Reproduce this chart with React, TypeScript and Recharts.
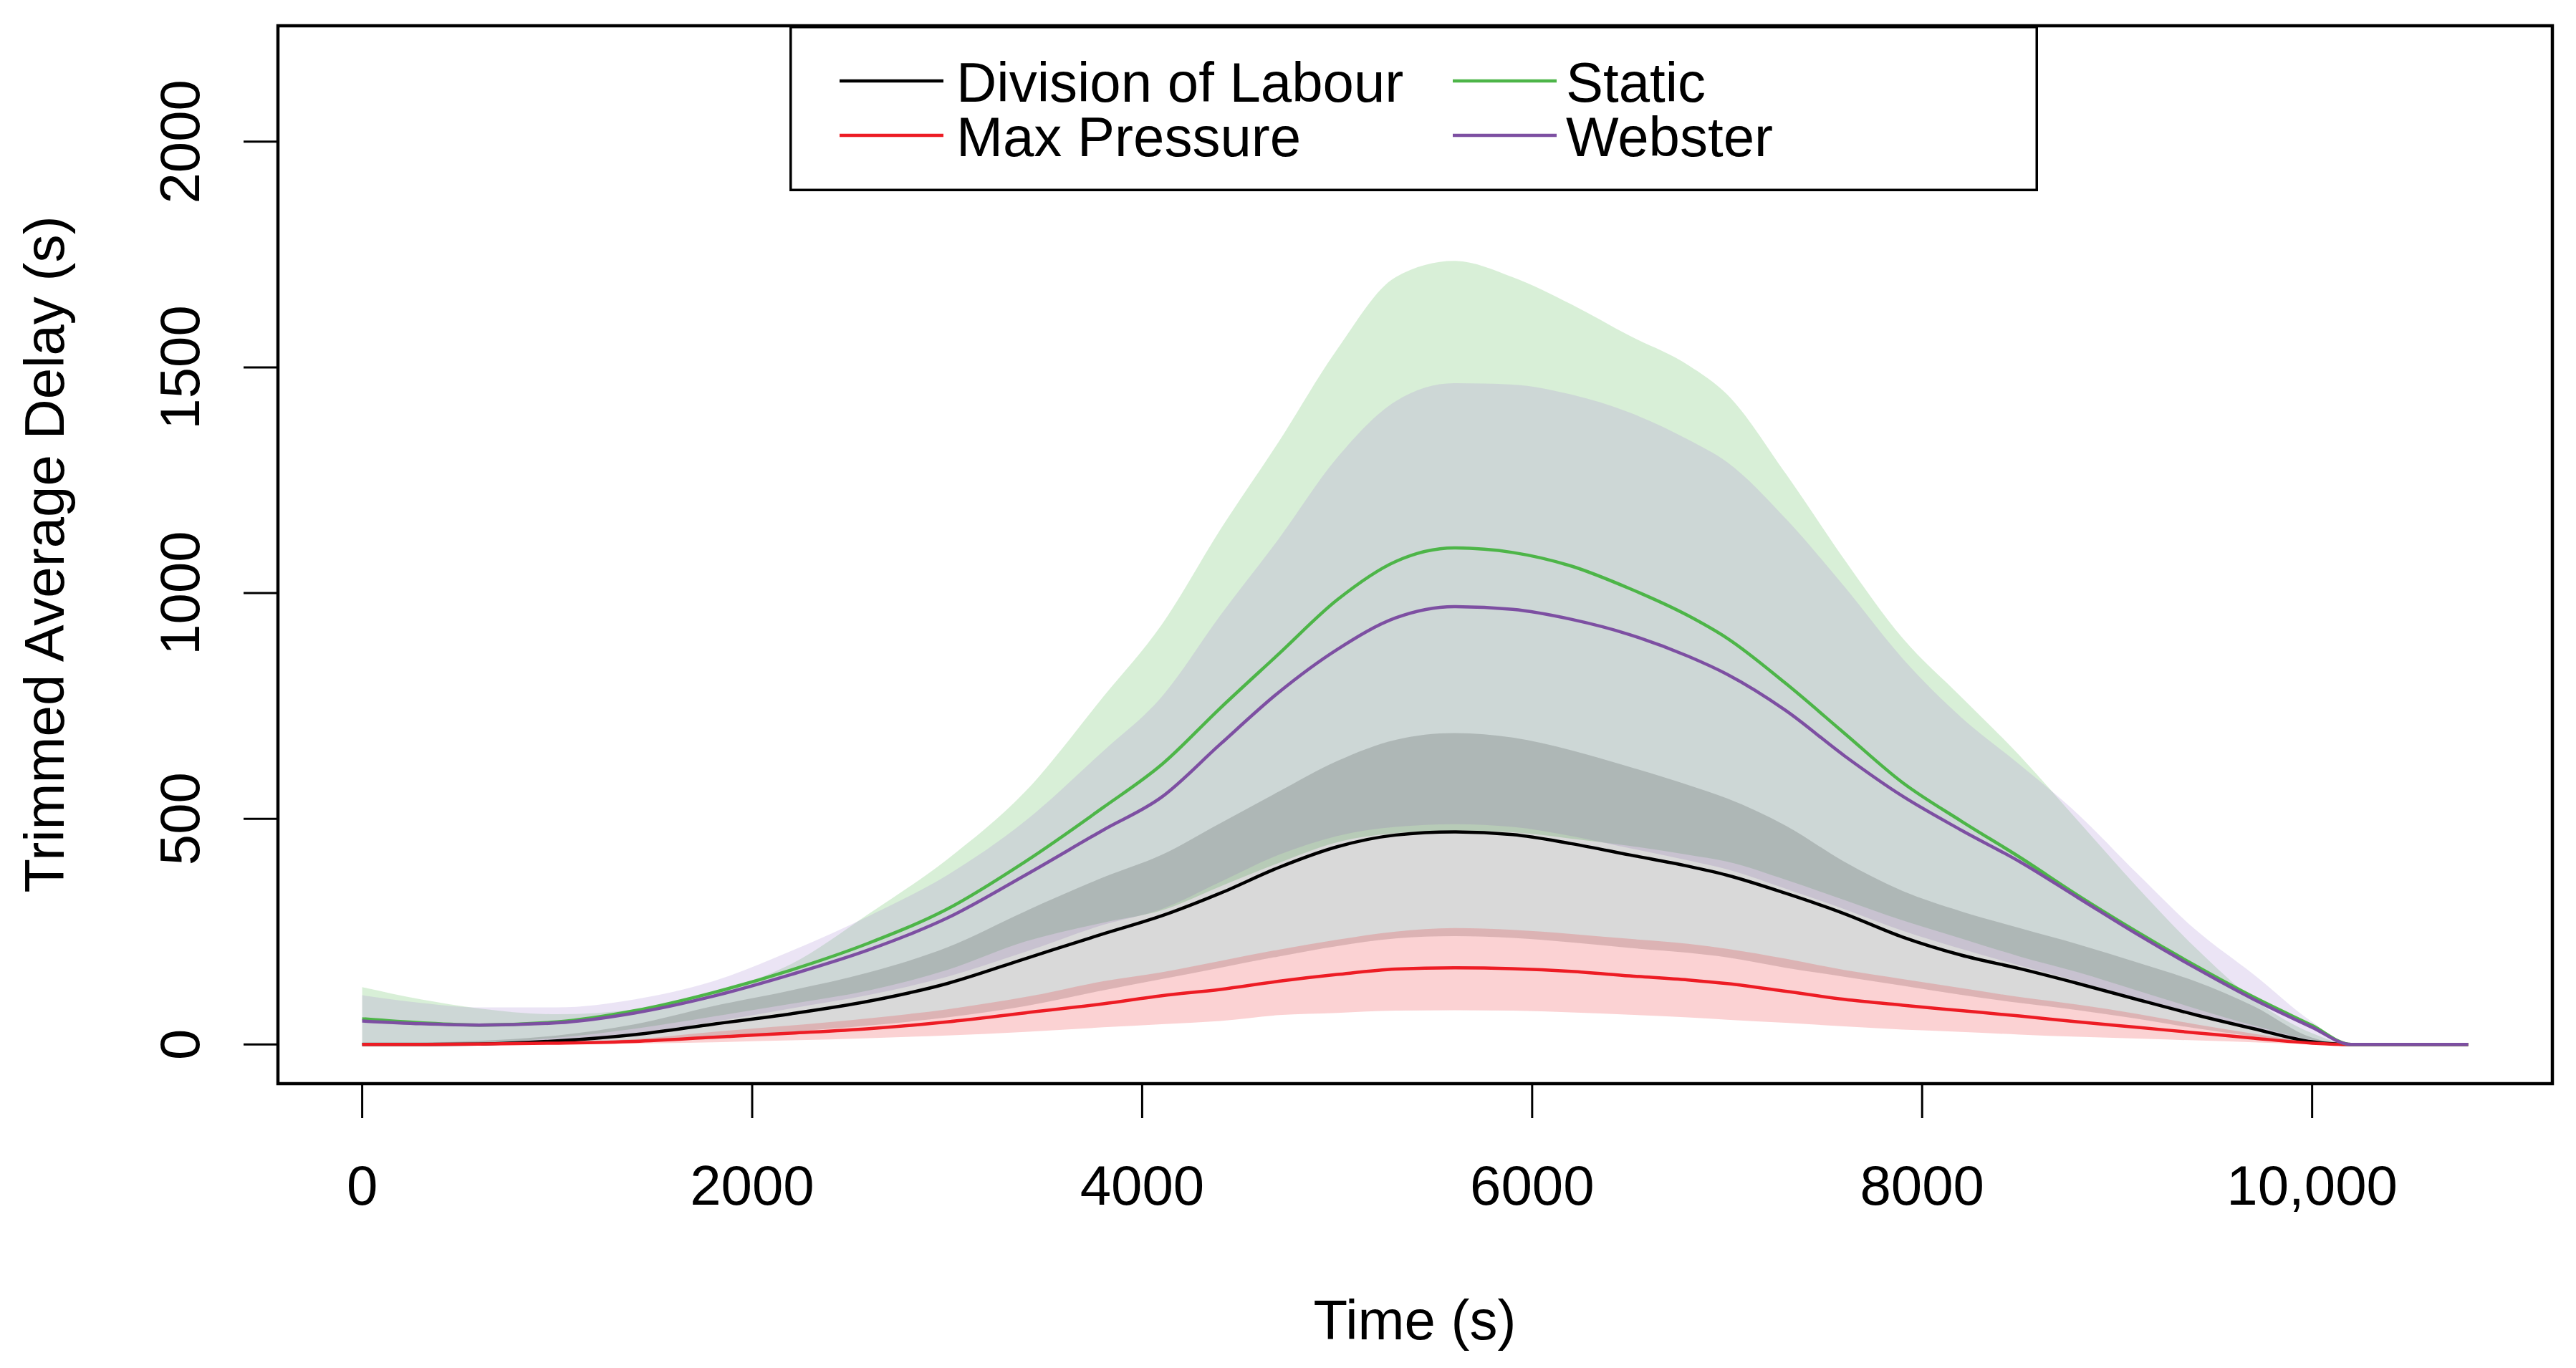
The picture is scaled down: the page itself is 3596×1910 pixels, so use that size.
import { Area, ComposedChart, Legend, Line, ReferenceArea, XAxis, YAxis } from "recharts";

// time (s)
const times = [
    0, 300, 600, 1000, 1400, 1800, 2200, 2600, 3000, 3400, 3800, 4100, 4400, 4700, 5000, 5300, 5600, 5900,
    6200, 6500, 6800, 7000, 7300, 7600, 7900, 8200, 8500, 8800, 9100, 9400, 9700, 10000, 10200, 10500, 10800,
];

// trimmed means
const dolMean = [0, 0, 1, 8, 22, 45, 68, 96, 135, 190, 245, 285, 335, 392, 438, 464, 471, 465, 445, 420, 395, 375, 335, 290, 238, 198, 168, 135, 100, 66, 35, 6, 0, 0, 0];
const mpMean = [0, 0, 1, 3, 7, 16, 25, 35, 50, 70, 90, 108, 122, 140, 155, 167, 170, 168, 162, 152, 143, 135, 118, 100, 87, 75, 63, 50, 38, 26, 14, 3, 0, 0, 0];
const staticMean = [57, 48, 43, 50, 75, 115, 165, 225, 300, 405, 525, 620, 745, 865, 985, 1070, 1100, 1090, 1060, 1010, 950, 900, 800, 690, 580, 495, 415, 330, 250, 175, 105, 42, 0, 0, 0];
const websterMean = [52, 46, 43, 48, 70, 107, 155, 210, 280, 375, 475, 548, 665, 780, 875, 945, 970, 964, 942, 908, 860, 820, 740, 640, 550, 475, 405, 325, 245, 170, 100, 38, 0, 0, 0];

// bands
const dolLow = [0, 0, 0, 2, 6, 15, 28, 42, 60, 85, 120, 145, 170, 195, 218, 235, 240, 236, 226, 214, 203, 193, 170, 150, 130, 110, 92, 76, 57, 36, 18, 4, 0, 0, 0];
const dolHigh = [5, 5, 8, 20, 45, 85, 120, 160, 215, 295, 370, 420, 490, 560, 628, 675, 690, 680, 652, 615, 575, 545, 485, 405, 340, 295, 258, 222, 182, 140, 85, 15, 0, 0, 0];
const mpLow = [0, 0, 0, 1, 2, 5, 9, 14, 20, 28, 38, 45, 52, 65, 70, 75, 76, 75, 71, 66, 60, 55, 48, 40, 33, 28, 22, 17, 13, 9, 5, 1, 0, 0, 0];
const mpHigh = [0, 1, 2, 5, 12, 28, 42, 58, 78, 105, 140, 160, 185, 210, 232, 250, 258, 254, 245, 234, 223, 212, 190, 165, 145, 125, 105, 88, 68, 45, 24, 6, 0, 0, 0];
const staticLow = [0, 0, 3, 15, 35, 62, 90, 120, 165, 228, 270, 297, 350, 402, 448, 468, 474, 470, 456, 440, 420, 405, 365, 320, 275, 235, 195, 160, 120, 80, 42, 10, 0, 0, 0];
const staticHigh = [127, 100, 80, 67, 78, 115, 178, 290, 410, 560, 770, 930, 1140, 1335, 1540, 1700, 1736, 1700, 1640, 1570, 1505, 1440, 1265, 1075, 900, 770, 640, 495, 350, 215, 100, 25, 0, 0, 0];
const websterLow = [0, 0, 2, 10, 25, 50, 80, 110, 150, 205, 265, 300, 360, 420, 462, 482, 488, 482, 462, 435, 408, 388, 345, 300, 252, 212, 175, 140, 102, 68, 35, 8, 0, 0, 0];
const websterHigh = [109, 92, 82, 82, 100, 140, 207, 285, 375, 495, 650, 770, 950, 1120, 1300, 1425, 1465, 1462, 1440, 1400, 1340, 1290, 1165, 1015, 855, 725, 620, 510, 380, 255, 155, 50, 0, 0, 0];

const xTicks = [0, 2000, 4000, 6000, 8000, 10000];
const xTickLabels = ["0", "2000", "4000", "6000", "8000", "10,000"];
const yTicks = [0, 500, 1000, 1500, 2000];
const yTickLabels = ["0", "500", "1000", "1500", "2000"];
const yLimit = 2170;

const series = [
    { name: "Division of Labour", key: "dol", color: "#000000", fill: "#000000", opacity: 0.15 },
    { name: "Max Pressure", key: "mp", color: "#ED1C24", fill: "#ED1C24", opacity: 0.2 },
    { name: "Static", key: "st", color: "#4DB548", fill: "#4DB548", opacity: 0.22 },
    { name: "Webster", key: "wb", color: "#7D4FA2", fill: "#AA8CD2", opacity: 0.23 },
];

const data = times.map((t, i) => ({
    t,
    dol: dolMean[i],
    mp: mpMean[i],
    st: staticMean[i],
    wb: websterMean[i],
    dolBand: [dolLow[i], dolHigh[i]],
    mpBand: [mpLow[i], mpHigh[i]],
    stBand: [staticLow[i], staticHigh[i]],
    wbBand: [websterLow[i], websterHigh[i]],
}));

// R style 4% padding
const xPad = (times[times.length - 1] - times[0]) * 0.04;
const xDomain = [times[0] - xPad, times[times.length - 1] + xPad];
const yDomain = [-yLimit * 0.04, yLimit * 1.04];

const FONT = "'Liberation Sans', Arial, Helvetica, sans-serif";
const W = 3596;
const H = 1910;

const XTick = ({ x, index }: any) => (
    <text x={x} y={1682} textAnchor="middle" fontSize={78} fontFamily={FONT} fill="#000">
        {xTickLabels[index]}
    </text>
);

const YTick = ({ y, index }: any) => (
    <text
        transform={`translate(278, ${y}) rotate(-90)`}
        textAnchor="middle"
        fontSize={78}
        fontFamily={FONT}
        fill="#000"
    >
        {yTickLabels[index]}
    </text>
);

const LegendBox = () => {
    const cols = [
        { lineX: 70, textX: 233 },
        { lineX: 926, textX: 1084 },
    ];
    const rows = [77, 153];
    return (
        <svg width={1743} height={231} style={{ display: "block" }}>
            <rect x={1.75} y={1.75} width={1739.5} height={227.5} fill="#fff" stroke="#000" strokeWidth={3.5} />
            {series.map((s, si) => {
                const col = cols[Math.floor(si / 2)];
                const rowY = rows[si % 2];
                return (
                    <g key={s.key}>
                        <line x1={col.lineX} x2={col.lineX + 145} y1={rowY} y2={rowY} stroke={s.color} strokeWidth={4.5} />
                        <text x={col.textX} y={rowY + 29} fontSize={78} fontFamily={FONT} fill="#000">
                            {s.name}
                        </text>
                    </g>
                );
            })}
        </svg>
    );
};

export default function App() {
    const bandOrder = ["st", "wb", "dol", "mp"];
    return (
        <div style={{ position: "absolute", left: 0, top: 0, width: W, height: H, background: "#fff" }}>
            <ComposedChart width={W} height={H} data={data} margin={{ top: 36, right: 33, bottom: 0, left: 0 }}>
                <XAxis
                    dataKey="t"
                    type="number"
                    domain={xDomain}
                    allowDataOverflow
                    ticks={xTicks}
                    interval={0}
                    height={397}
                    axisLine={false}
                    tickSize={48}
                    tickLine={{ stroke: "#000", strokeWidth: 3 }}
                    tick={<XTick />}
                />
                <YAxis
                    type="number"
                    domain={yDomain}
                    allowDataOverflow
                    ticks={yTicks}
                    interval={0}
                    width={388}
                    axisLine={false}
                    tickSize={48}
                    tickLine={{ stroke: "#000", strokeWidth: 3 }}
                    tick={<YTick />}
                />
                {bandOrder.map((k) => {
                    const s = series.find((x) => x.key === k)!;
                    return (
                        <Area
                            key={`${k}-band`}
                            dataKey={`${k}Band`}
                            type="monotoneX"
                            stroke="none"
                            fill={s.fill}
                            fillOpacity={s.opacity}
                            isAnimationActive={false}
                            dot={false}
                            activeDot={false}
                            legendType="none"
                        />
                    );
                })}
                {series.map((s) => (
                    <Line
                        key={s.key}
                        dataKey={s.key}
                        name={s.name}
                        type="monotoneX"
                        stroke={s.color}
                        strokeWidth={4.5}
                        dot={false}
                        activeDot={false}
                        isAnimationActive={false}
                    />
                ))}
                <ReferenceArea
                    x1={xDomain[0]}
                    x2={xDomain[1]}
                    y1={yDomain[0]}
                    y2={yDomain[1]}
                    fill="none"
                    stroke="#000"
                    strokeWidth={4.5}
                    ifOverflow="visible"
                />
                <Legend
                    layout="horizontal"
                    verticalAlign="middle"
                    align="center"
                    wrapperStyle={{ position: "absolute", left: 1102, top: 36, width: 1743, height: 231 }}
                    content={() => <LegendBox />}
                />
                <text x={1975} y={1870} textAnchor="middle" fontSize={78} fontFamily={FONT} fill="#000">
                    Time (s)
                </text>
                <text
                    transform="translate(89, 774) rotate(-90)"
                    textAnchor="middle"
                    fontSize={78}
                    fontFamily={FONT}
                    fill="#000"
                >
                    Trimmed Average Delay (s)
                </text>
            </ComposedChart>
        </div>
    );
}
